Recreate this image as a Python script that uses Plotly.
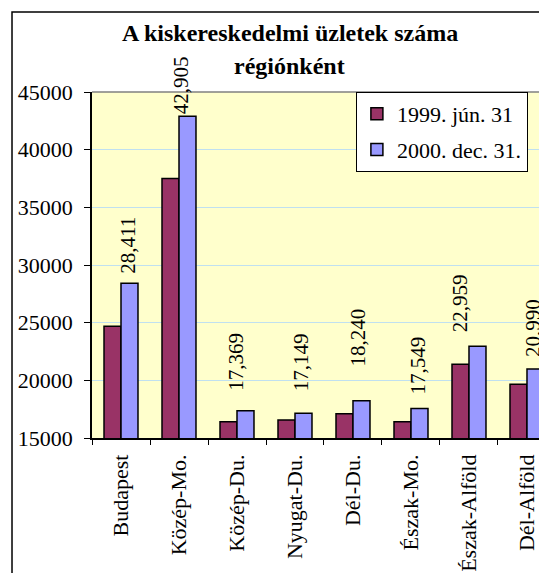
import plotly.graph_objects as go

# regions and shop counts
regions = ['Budapest', 'Közép-Mo.', 'Közép-Du.', 'Nyugat-Du.', 'Dél-Du.',
           'Észak-Mo.', 'Észak-Alföld', 'Dél-Alföld']
shops_1999 = [24700, 37500, 16400, 16550, 17100, 16400, 21400, 19650]
shops_2000 = [28411, 42905, 17369, 17149, 18240, 17549, 22959, 20990]

# label nudges (pixels): sideways from category centre, gap above bar
label_dx = [7, 2, -1, 6, 5, 7, -9, 6]
label_gap = [7, 0, 18, 20, 32, 12, 12, 10]

serif = 'Liberation Serif'

fig = go.Figure()

fig.add_trace(go.Bar(x=regions, y=shops_1999, name='1999. jún. 31',
                     marker=dict(color='#993366', line=dict(color='black', width=1.5)),
                     legendgroup='a'))
fig.add_trace(go.Bar(x=regions, y=shops_2000, name='2000. dec. 31.',
                     marker=dict(color='#9999FF', line=dict(color='black', width=1.5)),
                     legendgroup='b'))

# value labels above the 2000 bars
for i in range(len(regions)):
    fig.add_annotation(x=regions[i], y=shops_2000[i], text='{:,}'.format(shops_2000[i]),
                       textangle=-90, showarrow=False, xanchor='center', yanchor='bottom',
                       xshift=label_dx[i], yshift=label_gap[i],
                       font=dict(family=serif, size=21, color='black'))

# title, two lines
fig.add_annotation(x=0.435, y=1.17, xref='paper', yref='paper', showarrow=False,
                   xanchor='center', yanchor='middle',
                   text='<b>A kiskereskedelmi üzletek száma</b>',
                   font=dict(family=serif, size=24, color='black'))
fig.add_annotation(x=0.435, y=1.075, xref='paper', yref='paper', showarrow=False,
                   xanchor='center', yanchor='middle',
                   text='<b>régiónként</b>',
                   font=dict(family=serif, size=24, color='black'))

# outer chart border and grey top edge of plot area
fig.add_shape(type='rect', xref='paper', yref='paper', x0=-0.1758, y0=-0.5, x1=1.2, y1=1.2312,
              line=dict(color='black', width=1.5), layer='above')
fig.add_shape(type='line', xref='paper', yref='paper', x0=0, y0=1, x1=1.2, y1=1,
              line=dict(color='#808080', width=1.5))

# page body keeps an 8px margin, so the figure is sized to the visible part
fig.update_layout(
    width=539, height=565,
    margin=dict(l=84, r=0, t=84, b=135),
    paper_bgcolor='white', plot_bgcolor='#FFFFCC',
    barmode='group', bargap=0.414, bargroupgap=0,
    font=dict(family=serif, size=22, color='black'),
    showlegend=True,
    legend=dict(x=0.58, y=1, xanchor='left', yanchor='top',
                bgcolor='white', bordercolor='black', borderwidth=1,
                font=dict(family=serif, size=22), tracegroupgap=4),
)

fig.update_xaxes(range=[-0.5, 7.345], tickangle=-90, ticks='outside', ticklen=5,
                 tickson='boundaries', tickcolor='black', showline=True, linecolor='black',
                 linewidth=1.5, showgrid=False, automargin=False, ticklabelstandoff=6,
                 tickfont=dict(family=serif, size=22))
fig.update_yaxes(range=[15000, 45000], dtick=5000, tickformat='d', ticks='outside', ticklen=6,
                 tickcolor='black', showline=True, linecolor='black', linewidth=1.5,
                 gridcolor='#C0E0F0', gridwidth=1, zeroline=False, automargin=False,
                 ticklabelstandoff=7, tickfont=dict(family=serif, size=22))

fig.write_html('out.html')
